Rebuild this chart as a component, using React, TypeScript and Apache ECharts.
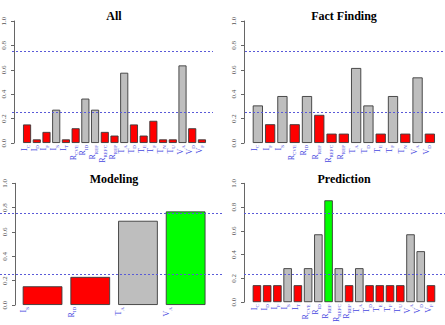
import React, { useEffect, useRef } from "react";
import * as echarts from "echarts";

const allCats = ["I_C", "I_D", "I_F", "I_S", "I_T", "R_CVE", "R_ID", "R_REF", "R_REFC", "R_REP", "T_A", "T_D", "T_E", "T_F", "T_N", "T_U", "V_A", "V_D", "V_F"];
const allVals = [0.152, 0.03, 0.091, 0.273, 0.03, 0.121, 0.364, 0.273, 0.091, 0.061, 0.576, 0.152, 0.061, 0.182, 0.03, 0.03, 0.636, 0.121, 0.03];

const ffCats = ["I_C", "I_F", "I_S", "R_CVE", "R_ID", "R_REF", "R_REFC", "R_REP", "T_A", "T_D", "T_E", "T_F", "T_N", "V_A", "V_D"];
const ffVals = [0.308, 0.154, 0.385, 0.154, 0.385, 0.231, 0.077, 0.077, 0.615, 0.308, 0.077, 0.385, 0.077, 0.538, 0.077];

const modCats = ["I_S", "R_ID", "T_A", "V_A"];
const modVals = [0.154, 0.231, 0.692, 0.769];

const predCats = ["I_C", "I_D", "I_F", "I_S", "I_T", "R_CVE", "R_ID", "R_REF", "R_REFC", "R_REP", "T_A", "T_D", "T_E", "T_F", "T_U", "V_A", "V_D", "V_F"];
const predVals = [0.143, 0.143, 0.143, 0.286, 0.143, 0.286, 0.571, 0.857, 0.286, 0.143, 0.286, 0.143, 0.143, 0.143, 0.143, 0.571, 0.429, 0.143];

const titles = ["All", "Fact Finding", "Modeling", "Prediction"];
const thresholds = [0.25, 0.75];

const SERIF = '"Liberation Serif", "DejaVu Serif", serif';
const LABEL_BLUE = "#4646E0";

function barColor(v: number) {
  if (v < thresholds[0]) return "#FF0000";
  if (v > thresholds[1]) return "#00FF00";
  return "#BEBEBE";
}

function labelFmt(v: string) {
  const parts = v.split("_");
  return parts.length > 1 ? `{b|${parts[0]}}{s|${parts[1]}}` : `{b|${parts[0]}}`;
}

const panels = [
  { cats: allCats, vals: allVals, barLeft: 21.2, barWidth: 185.6, axisX: 13, top: 21, height: 122, lineLeft: 12, lineRight: 213, tx: 114, ty: 16, shift: 1.5 },
  { cats: ffCats, vals: ffVals, barLeft: 251.7, barWidth: 184.3, axisX: 244, top: 21, height: 122, lineLeft: 245, lineRight: 445, tx: 344, ty: 16, shift: 2.5 },
  { cats: modCats, vals: modVals, barLeft: 18.7, barWidth: 190.8, axisX: 15, top: 183.3, height: 121.7, lineLeft: 0, lineRight: 222, tx: 114, ty: 178.5, shift: 18 },
  { cats: predCats, vals: predVals, barLeft: 251.8, barWidth: 184.3, axisX: 244, top: 183.3, height: 121.7, lineLeft: 244, lineRight: 445, tx: 344, ty: 178.5, shift: 1.8 },
];

export default function App() {
  const ref = useRef<HTMLDivElement>(null);
  useEffect(() => {
    if (!ref.current) return;
    const chart = echarts.init(ref.current, undefined, { renderer: "svg" });
    const grid: any[] = [];
    const xAxis: any[] = [];
    const yAxis: any[] = [];
    const series: any[] = [];
    const graphic: any[] = [];
    panels.forEach((p, i) => {
      const gi = 2 * i;
      grid.push({ left: p.barLeft, top: p.top, width: p.barWidth, height: p.height, containLabel: false });
      grid.push({ left: p.lineLeft, top: p.top, width: p.lineRight - p.lineLeft, height: p.height, containLabel: false });
      xAxis.push({
        gridIndex: gi,
        type: "category",
        data: p.cats,
        axisLine: { show: false },
        axisTick: { show: false },
        axisLabel: {
          rotate: 90,
          interval: 0,
          margin: 2,
          color: LABEL_BLUE,
          fontFamily: SERIF,
          padding: [0, 0, 2 * p.shift, 0],
          formatter: labelFmt,
          rich: {
            b: { fontSize: 8, color: LABEL_BLUE, fontFamily: SERIF, lineHeight: 10, verticalAlign: "top" },
            s: { fontSize: 5, color: LABEL_BLUE, fontFamily: SERIF, lineHeight: 5, verticalAlign: "bottom" },
          },
        },
      });
      xAxis.push({ gridIndex: gi + 1, type: "value", min: 0, max: 1, show: false });
      yAxis.push({
        gridIndex: gi,
        type: "value",
        min: 0,
        max: 1,
        interval: 0.2,
        offset: p.barLeft - p.axisX,
        axisLine: { show: true, lineStyle: { color: "#666", width: 1 } },
        axisTick: { show: true, length: 3, lineStyle: { color: "#666", width: 1 } },
        axisLabel: {
          rotate: 90,
          margin: 7,
          fontSize: 7,
          color: "#555",
          fontFamily: SERIF,
          formatter: (v: number) => v.toFixed(1),
        },
        splitLine: { show: false },
      });
      yAxis.push({ gridIndex: gi + 1, type: "value", min: 0, max: 1, show: false });
      series.push({
        type: "bar",
        xAxisIndex: gi,
        yAxisIndex: gi,
        barCategoryGap: "16.7%",
        data: p.vals.map((v) => ({ value: v, itemStyle: { color: barColor(v) } })),
        itemStyle: { borderColor: "#3a3a3a", borderWidth: 0.9 },
        z: 2,
      });
      series.push({
        type: "line",
        xAxisIndex: gi + 1,
        yAxisIndex: gi + 1,
        data: [],
        z: 5,
        markLine: {
          silent: true,
          symbol: "none",
          label: { show: false },
          lineStyle: { color: "#5A5AD8", type: [2, 2], width: 1 },
          data: thresholds.map((t) => ({ yAxis: t })),
        },
      });
      graphic.push({
        type: "text",
        x: p.tx,
        y: p.ty,
        z: 10,
        style: {
          text: titles[i],
          font: `bold 12px ${SERIF}`,
          fill: "#000",
          align: "center",
          verticalAlign: "middle",
          textAlign: "center",
          textVerticalAlign: "middle",
        },
      });
    });
    chart.setOption({
      animation: false,
      backgroundColor: "#fff",
      grid,
      xAxis,
      yAxis,
      series,
      graphic,
    });
    return () => chart.dispose();
  }, []);
  return <div ref={ref} style={{ position: "fixed", left: 0, top: 0, width: 445, height: 325 }} />;
}
